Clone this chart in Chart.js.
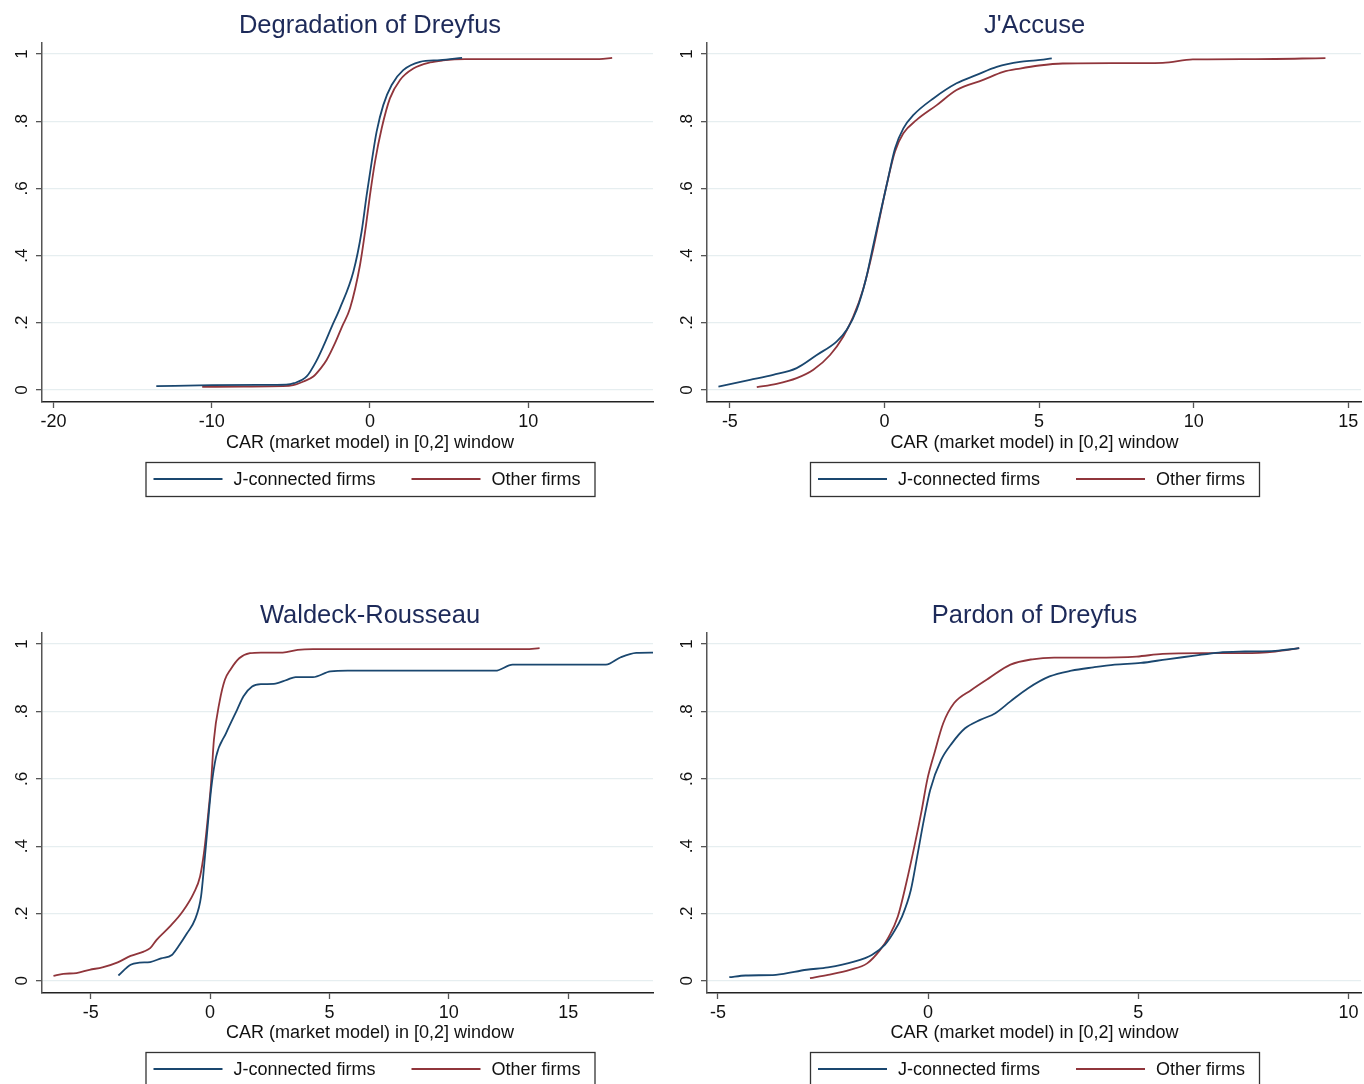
<!DOCTYPE html>
<html><head><meta charset="utf-8">
<script src="https://cdn.jsdelivr.net/npm/chart.js@4.4.0/dist/chart.umd.min.js"></script>
<style>
html,body{margin:0;padding:0;background:#fff;width:1364px;height:1084px;overflow:hidden;}
canvas{position:absolute;}
</style></head><body>
<canvas id="c1" width="660" height="590" style="left:0;top:0"></canvas>
<canvas id="c2" width="704" height="590" style="left:660px;top:0"></canvas>
<canvas id="c3" width="660" height="494" style="left:0;top:590px"></canvas>
<canvas id="c4" width="704" height="494" style="left:660px;top:590px"></canvas>
<script>
// ---------- data ----------
const seriesLabels = ['J-connected firms', 'Other firms'];
const panelTitles = ['Degradation of Dreyfus', "J'Accuse", 'Waldeck-Rousseau', 'Pardon of Dreyfus'];
const xAxisTitle = 'CAR (market model) in [0,2] window';
const yTicks = [0, 0.2, 0.4, 0.6, 0.8, 1];
const yTickLabels = ['0', '.2', '.4', '.6', '.8', '1'];

const degTicks = [-20, -10, 0, 10];
const accTicks = [-5, 0, 5, 10, 15];
const walTicks = [-5, 0, 5, 10, 15];
const parTicks = [-5, 0, 5, 10];

// Degradation of Dreyfus
const degJx = [-13.5,-10,-7,-5.3,-4.8,-4.0,-3.4,-2.9,-2.4,-1.9,-1.05,-0.53,-0.21,0.11,0.42,0.84,1.37,2.1,3.16,4.42,5.82];
const degJy = [0.011,0.014,0.015,0.016,0.02,0.04,0.085,0.135,0.19,0.243,0.352,0.471,0.58,0.68,0.769,0.848,0.908,0.952,0.977,0.982,0.989];
const degOx = [-10.6,-8,-5.5,-4.85,-4.2,-3.58,-3.1,-2.74,-2.21,-1.75,-1.26,-0.63,-0.25,0,0.32,0.74,1.26,1.9,2.74,3.79,4.6,6,12,14.5,15.3];
const degOy = [0.009,0.01,0.011,0.014,0.025,0.04,0.065,0.089,0.139,0.19,0.243,0.372,0.491,0.58,0.68,0.779,0.868,0.923,0.957,0.975,0.981,0.985,0.985,0.985,0.989];

// J'Accuse
const accJx = [-5.37,-4.35,-3.6,-2.84,-2.19,-1.55,-1.22,-0.9,-0.6,-0.36,-0.15,0.07,0.34,0.61,0.93,1.58,2.33,2.98,3.63,4.38,4.9,5.41];
const accJy = [0.01,0.03,0.045,0.065,0.104,0.144,0.179,0.238,0.33,0.432,0.52,0.61,0.719,0.779,0.818,0.868,0.913,0.938,0.962,0.977,0.981,0.987];
const accOx = [-4.13,-3.49,-2.84,-2.3,-1.76,-1.33,-1.01,-0.69,-0.36,-0.15,0.07,0.34,0.61,1.04,1.69,2.33,3.19,3.84,4.38,5.0,5.76,7.5,9.0,9.97,12,14.26];
const accOy = [0.008,0.018,0.035,0.06,0.104,0.159,0.218,0.3,0.422,0.515,0.61,0.71,0.764,0.804,0.848,0.893,0.923,0.947,0.957,0.966,0.972,0.973,0.974,0.984,0.985,0.988];

// Waldeck-Rousseau
const walJx = [-3.84,-3.33,-2.96,-2.51,-2.05,-1.6,-1.33,-0.96,-0.64,-0.38,-0.24,-0.09,0.04,0.25,0.67,1.13,1.4,1.76,2.13,2.67,3.22,3.58,4.31,5.04,5.76,11.95,12.67,16.58,17.2,17.85,18.6];
const walJy = [0.016,0.048,0.054,0.056,0.067,0.077,0.102,0.142,0.181,0.25,0.35,0.468,0.567,0.665,0.736,0.805,0.845,0.874,0.881,0.882,0.894,0.902,0.902,0.919,0.921,0.921,0.939,0.939,0.961,0.974,0.975];
const walOx = [-6.56,-6.15,-5.6,-5.05,-4.51,-3.87,-3.33,-2.78,-2.51,-2.24,-1.69,-1.15,-0.69,-0.42,-0.24,-0.09,0.04,0.16,0.4,0.62,0.85,1.22,1.67,2.13,3.04,3.67,4.31,13.2,13.8];
const walOy = [0.015,0.021,0.023,0.033,0.04,0.055,0.074,0.087,0.097,0.122,0.161,0.206,0.26,0.31,0.389,0.488,0.587,0.716,0.83,0.894,0.924,0.958,0.973,0.975,0.975,0.983,0.985,0.985,0.988];

// Pardon of Dreyfus
const parJx = [-4.73,-4.34,-3.62,-2.89,-2.38,-1.76,-1.34,-1.03,-0.83,-0.62,-0.41,-0.26,-0.1,0.05,0.31,0.57,0.88,1.24,1.6,1.96,2.38,2.89,3.41,3.93,4.44,5.06,5.68,6.3,6.92,7.54,8.26,8.83];
const parJy = [0.011,0.016,0.018,0.033,0.04,0.057,0.077,0.107,0.142,0.191,0.27,0.369,0.478,0.567,0.656,0.706,0.75,0.775,0.795,0.83,0.869,0.904,0.921,0.931,0.939,0.944,0.955,0.965,0.975,0.978,0.98,0.988];
const parOx = [-2.81,-2.38,-1.86,-1.45,-1.14,-0.93,-0.72,-0.52,-0.31,-0.15,-0.02,0.15,0.36,0.62,1.03,1.45,1.96,2.48,3.0,3.93,4.96,5.58,6.51,7.54,8.26,8.83];
const parOy = [0.008,0.018,0.033,0.052,0.092,0.132,0.191,0.29,0.409,0.508,0.597,0.676,0.765,0.825,0.864,0.899,0.939,0.955,0.96,0.96,0.963,0.971,0.973,0.973,0.978,0.988];

// ---------- styling / layout ----------
const FONT = '"Liberation Sans", Arial, Helvetica, sans-serif';
const BLUE = '#1a476f', RED = '#90353b', TITLE = '#1d2a59';

const panels = [
  {id:'c1', title:panelTitles[0], jx:degJx, jy:degJy, ox:degOx, oy:degOy, ticks:degTicks, xmin:-20.72, xmax:17.88, w:660, h:590, area:{l:42,r:653,t:43,b:402}, cx:370},
  {id:'c2', title:panelTitles[1], jx:accJx, jy:accJy, ox:accOx, oy:accOy, ticks:accTicks, xmin:-5.74, xmax:15.41, w:704, h:590, area:{l:47,r:701,t:43,b:402}, cx:374.5},
  {id:'c3', title:panelTitles[2], jx:walJx, jy:walJy, ox:walOx, oy:walOy, ticks:walTicks, xmin:-7.04, xmax:18.55, w:660, h:494, area:{l:42,r:653,t:43,b:403}, cx:370},
  {id:'c4', title:panelTitles[3], jx:parJx, jy:parJy, ox:parOx, oy:parOy, ticks:parTicks, xmin:-5.26, xmax:10.30, w:704, h:494, area:{l:47,r:701,t:43,b:403}, cx:374.5}
];

const zip = (xs, ys) => xs.map((x, i) => ({x, y: ys[i]}));

const decor = {
  id: 'decor',
  afterDraw(chart, args, opts) {
    const ctx = chart.ctx, cx = opts.cx;
    ctx.save();
    ctx.textAlign = 'center';
    ctx.textBaseline = 'alphabetic';
    ctx.fillStyle = TITLE;
    ctx.font = '25.5px ' + FONT;
    ctx.fillText(opts.title, cx, 33);
    ctx.fillStyle = '#111';
    ctx.font = '18px ' + FONT;
    ctx.fillText(xAxisTitle, cx, 448);
    // legend
    const bl = cx - 224.5, bt = 462, ly = 479;
    ctx.strokeStyle = '#333';
    ctx.lineWidth = 1.3;
    ctx.strokeRect(bl + 0.5, bt + 0.5, 449, 34);
    ctx.lineWidth = 2;
    ctx.strokeStyle = BLUE;
    ctx.beginPath(); ctx.moveTo(bl + 8, ly); ctx.lineTo(bl + 77, ly); ctx.stroke();
    ctx.strokeStyle = RED;
    ctx.beginPath(); ctx.moveTo(bl + 266, ly); ctx.lineTo(bl + 335, ly); ctx.stroke();
    ctx.textAlign = 'left';
    ctx.textBaseline = 'middle';
    ctx.fillStyle = '#111';
    ctx.fillText(seriesLabels[0], bl + 88, ly + 1);
    ctx.fillText(seriesLabels[1], bl + 346, ly + 1);
    ctx.restore();
  }
};

panels.forEach(p => {
  new Chart(document.getElementById(p.id), {
    type: 'line',
    data: {
      datasets: [
        {label: seriesLabels[0], data: zip(p.jx, p.jy), borderColor: BLUE, borderWidth: 1.8, pointRadius: 0, cubicInterpolationMode: 'monotone', fill: false},
        {label: seriesLabels[1], data: zip(p.ox, p.oy), borderColor: RED, borderWidth: 1.8, pointRadius: 0, cubicInterpolationMode: 'monotone', fill: false}
      ]
    },
    options: {
      responsive: false,
      animation: false,
      events: [],
      layout: {padding: {left: 0, right: p.w - p.area.r, top: p.area.t, bottom: p.h - p.area.b - 60}},
      plugins: {legend: {display: false}, title: {display: false}, tooltip: {enabled: false},
        decor: {title: p.title, cx: p.cx}},
      scales: {
        x: {
          type: 'linear', min: p.xmin, max: p.xmax,
          afterBuildTicks: s => { s.ticks = p.ticks.map(v => ({value: v})); },
          afterFit: s => { s.height = 60; },
          ticks: {callback: v => String(v), minRotation: 0, maxRotation: 0, padding: 3, color: '#111', font: {family: FONT, size: 18}},
          grid: {drawOnChartArea: false, drawTicks: true, tickLength: 6, tickColor: '#555', tickWidth: 1.3},
          border: {display: true, color: '#222', width: 1.5}
        },
        y: {
          type: 'linear', min: -0.036, max: 1.033,
          afterBuildTicks: s => { s.ticks = yTicks.map(v => ({value: v})); },
          afterFit: s => { s.width = p.area.l; },
          ticks: {callback: v => yTickLabels[yTicks.indexOf(v)], minRotation: 90, maxRotation: 90, crossAlign: 'center', padding: 7, color: '#111', font: {family: FONT, size: 17}},
          grid: {color: '#e6eef0', lineWidth: 1.3, drawTicks: true, tickLength: 6, tickColor: '#555', tickWidth: 1.3},
          border: {display: true, color: '#555', width: 1.5}
        }
      }
    },
    plugins: [decor]
  });
});
</script>
</body></html>
